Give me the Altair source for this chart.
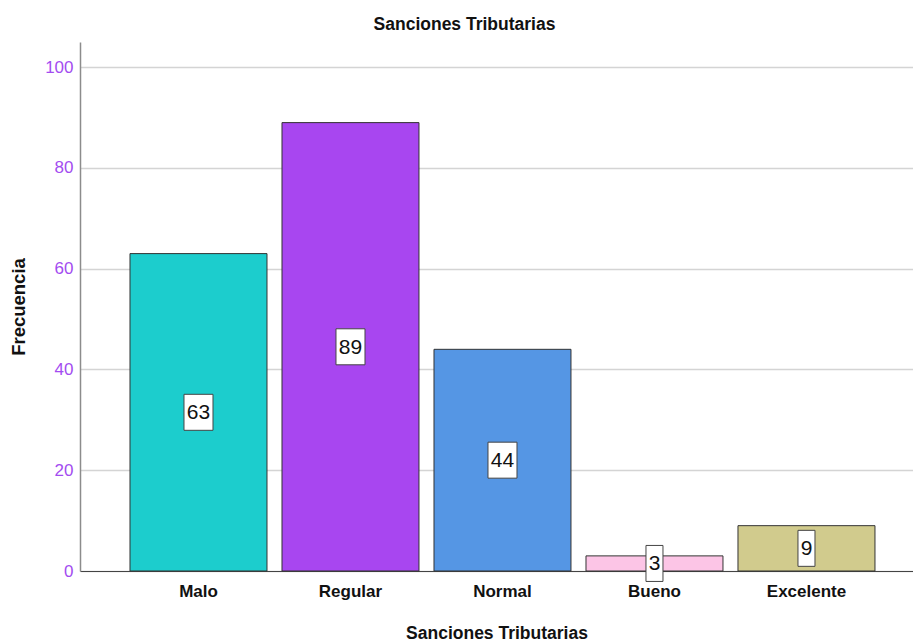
import altair as alt
import pandas as pd

categories = ["Malo", "Regular", "Normal", "Bueno", "Excelente"]
counts = [63, 89, 44, 3, 9]
colors = ["#1ccdcd", "#a846f0", "#5596e4", "#fcc5e6", "#d1cb8d"]
y_ticks = [0, 20, 40, 60, 80, 100]

df = pd.DataFrame({"cat": categories, "n": counts})

FONT = "Liberation Sans"
W, H = 833, 529

x_enc = alt.X(
    "cat:N",
    sort=categories,
    scale=alt.Scale(paddingInner=0.0987, paddingOuter=0.2895, align=0.568),
    axis=alt.Axis(
        title="Sanciones Tributarias",
        labelAngle=0,
        labelFont=FONT,
        labelFontSize=17,
        labelFontWeight="bold",
        labelColor="#111111",
        labelPadding=12,
        ticks=False,
        tickSize=0,
        domainColor="#444444",
        domainWidth=1,
        titleFont=FONT,
        titleFontSize=17.5,
        titleFontWeight="bold",
        titleColor="#111111",
        titleY=62,
        titleBaseline="middle",
    ),
)

y_axis = alt.Axis(
    values=y_ticks,
    title="Frecuencia",
    labelFont=FONT,
    labelFontSize=17,
    labelColor="#a34cf0",
    labelPadding=7,
    ticks=False,
    tickSize=0,
    grid=True,
    gridColor="#d4d4d4",
    gridWidth=1.5,
    domainColor="#8c8c8c",
    domainWidth=1.5,
    titleFont=FONT,
    titleFontSize=18.5,
    titleFontWeight="bold",
    titleColor="#111111",
    titleX=-62,
    titleY=H / 2,
    titleAngle=-90,
    titleAlign="center",
    titleBaseline="middle",
)

y_scale = alt.Scale(domain=[0, 105], nice=False, zero=True)

base = alt.Chart(df).encode(x=x_enc)

bars = base.mark_bar(stroke="#333333", strokeWidth=1).encode(
    y=alt.Y("n:Q", scale=y_scale, axis=y_axis),
    color=alt.Color("cat:N", sort=categories,
                    scale=alt.Scale(domain=categories, range=colors), legend=None),
)

boxes = base.transform_calculate(
    half="datum.n / 2",
    bw="datum.n >= 10 ? 29 : 17",
).mark_bar(fill="white", stroke="#444444", strokeWidth=1, yOffset=-18, y2Offset=18).encode(
    y=alt.Y("half:Q", scale=y_scale),
    y2="half:Q",
    size=alt.Size("bw:Q", scale=None),
)

labels = base.transform_calculate(half="datum.n / 2").mark_text(
    font=FONT, fontSize=21, color="#111111", baseline="middle", dy=1
).encode(
    y=alt.Y("half:Q", scale=y_scale),
    text="n:Q",
)

chart = alt.layer(bars, boxes, labels).properties(
    width=W,
    height=H,
    title=alt.TitleParams(
        "Sanciones Tributarias",
        font=FONT,
        fontSize=17.5,
        fontWeight="bold",
        color="#111111",
        anchor="middle",
        dx=-32,
        offset=9,
    ),
    autosize=alt.AutoSizeParams(type="none"),
    padding={"left": 80, "top": 42, "right": 0, "bottom": 72},
).configure(background="white").configure_view(strokeWidth=0, stroke="transparent")

chart.save("out.html", embed_options={"renderer": "svg", "actions": False})
